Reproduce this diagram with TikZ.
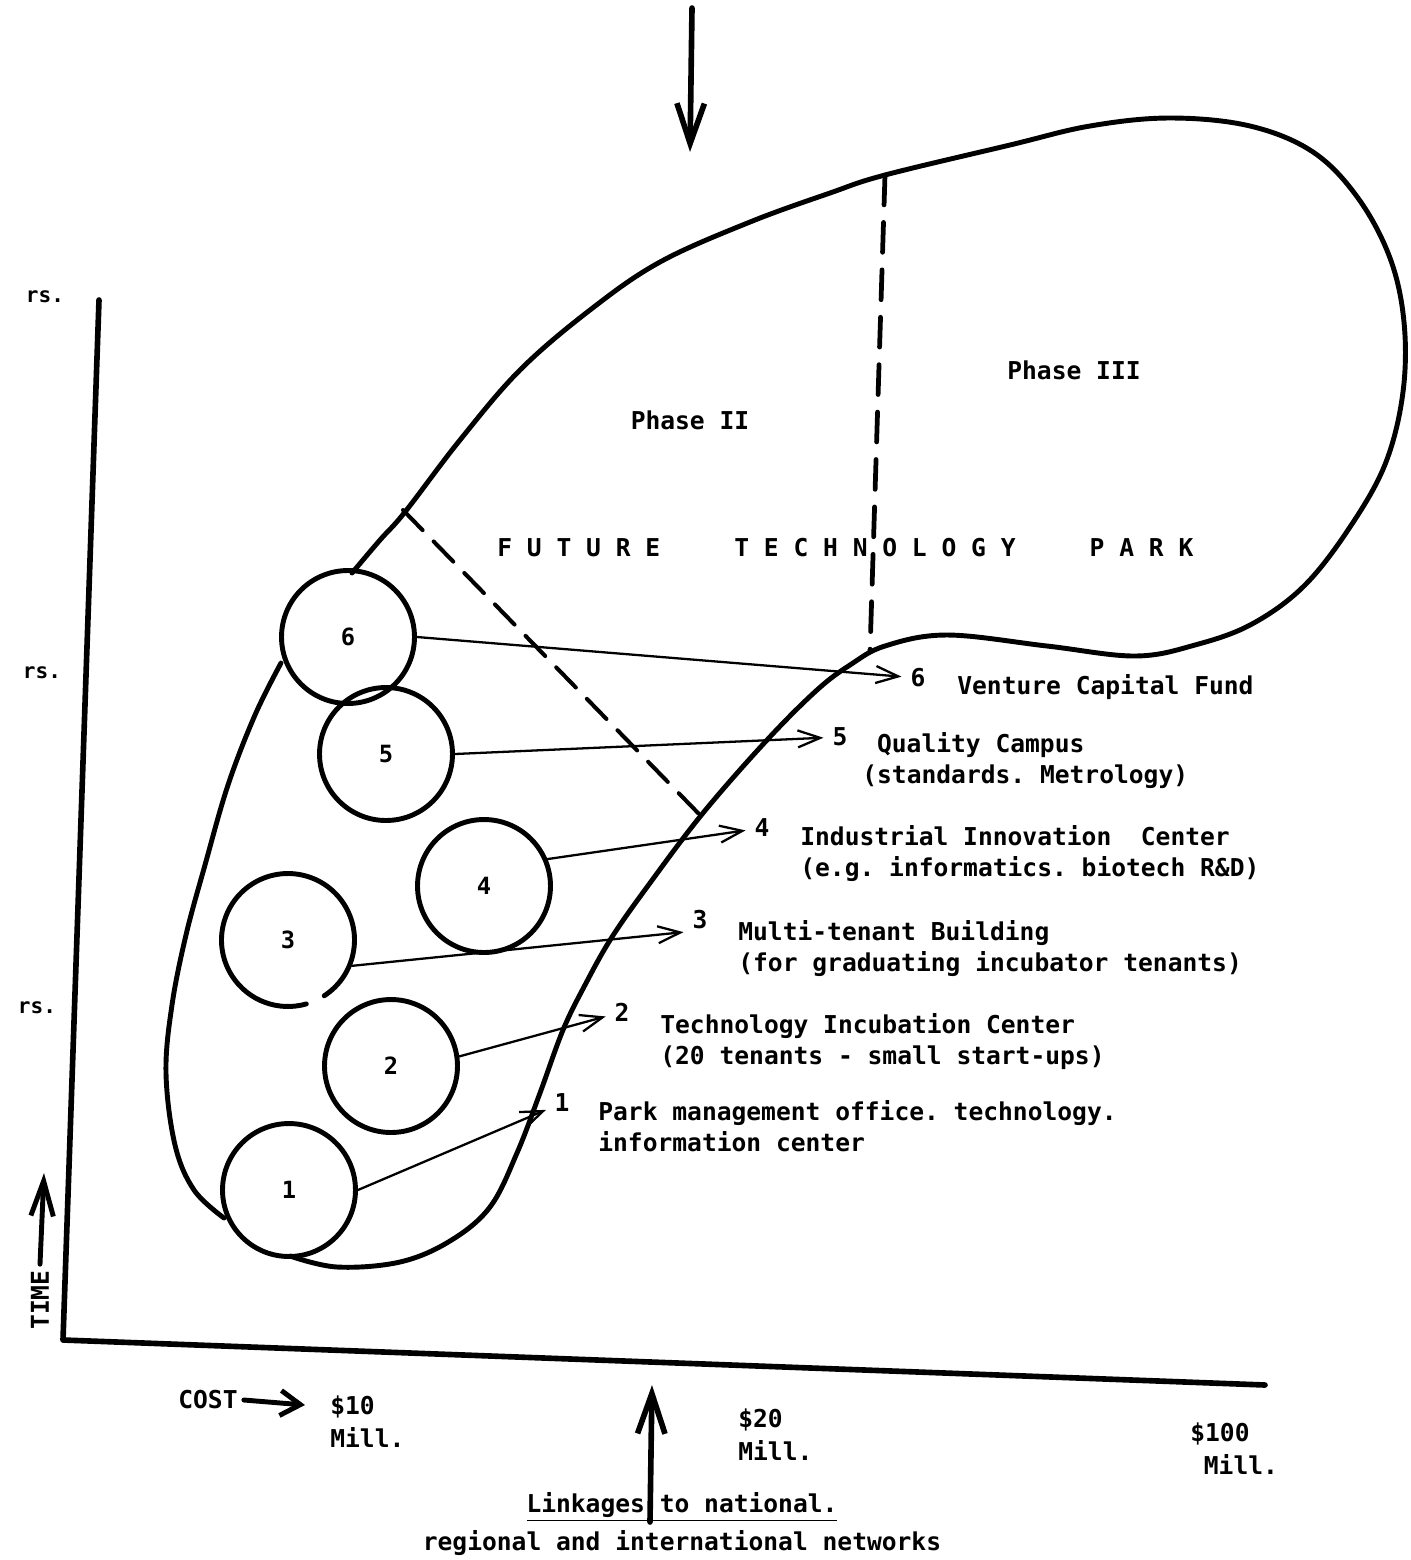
\documentclass[tikz,border=0pt]{standalone}
\usepackage{fontspec}
\setmonofont{DejaVu Sans Mono}
\usetikzlibrary{calc,arrows.meta}

\begin{document}
\begin{tikzpicture}[x=0.02cm, y=-0.02cm, line join=round, line cap=round,
    font=\ttfamily\bfseries\fontsize{14}{17.8}\selectfont,
    bubble/.style={circle, draw, line width=2.8pt, minimum size=2.66cm, inner sep=0pt,
        font=\ttfamily\bfseries\fontsize{13.5}{15}\selectfont},
    rim/.style={line width=2.8pt},
    phase/.style={line width=2.3pt, dash pattern=on 16pt off 9pt},
    link/.style={line width=1.3pt, shorten >=4pt, -{Straight Barb[length=4.5mm,width=3.4mm]}},
    bigarrow/.style={line width=3.2pt, -{Straight Barb[length=8mm,width=5.5mm]}},
    num/.style={inner sep=1pt},
    item/.style={anchor=north west, align=left, inner sep=0pt},
    money/.style={anchor=north west, align=left, inner sep=0pt,
        font=\ttfamily\bfseries\fontsize{14}{19}\selectfont},
    yr/.style={font=\ttfamily\bfseries\fontsize{12}{14}\selectfont}]
    \useasboundingbox (0,0) rectangle (1411,1560);

    \coordinate (ytop) at (99,300);
    \coordinate (origin) at (63,1340);
    \coordinate (xend) at (1265,1385);

    % axes
    \draw[line width=3.2pt] (ytop) -- (origin) -- (xend);

    % outline of the park
    \draw[rim] plot[smooth, tension=0.6] coordinates {(290,1256) (337,1267) (400,1262)
        (450,1241) (490,1207) (517,1153) (540,1093) (563,1030) (585,985) (612,937)
        (650,883) (703,813) (767,740) (817,690) (850,665) (885,646) (947,635)
        (1047,646) (1135,656) (1195,645) (1252,624) (1305,585) (1352,524) (1386,462)
        (1403,392) (1404,322) (1390,258) (1358,198) (1313,152) (1250,126) (1170,118)
        (1090,126) (1010,145) (885,175) (830,193) (750,222) (660,262) (590,310)
        (520,370) (460,440) (405,512) (380,540) (352,573)};
    \draw[rim] plot[smooth, tension=0.6] coordinates {(281,663) (255,715) (228,785)
        (205,865) (186,935) (172,1005) (166,1073) (175,1145) (194,1190) (224,1218)};

    % phases
    \coordinate (pa) at (403,510);
    \coordinate (pb) at (700,815);
    \coordinate (pc) at (885,175);
    \coordinate (pd) at (870,652);
    \draw[phase] (pa) -- (pb);
    \draw[phase, line width=2.7pt, dash pattern=on 17pt off 10pt] (pc) -- (pd);

    \node (ph2) at (690,420) {Phase II};
    \node (ph3) at (1074,370) {Phase III};
    \node[anchor=west, inner sep=0pt] (ftp) at (497,548)
        {F~U~T~U~R~E~~~~~T~E~C~H~N~O~L~O~G~Y~~~~~P~A~R~K};

    % circles
    \node[bubble] (c6) at (348,637) {6};
    \node[bubble] (c5) at (386,754) {5};
    \node[bubble] (c4) at (484,886) {4};
    \node[bubble, draw=none] (c3) at (288,940) {3};
    \draw[rim] ($(c3.center)+(-57:1.33cm)$) arc[start angle=-57, end angle=286, radius=1.33cm];
    \node[bubble] (c2) at (391,1066) {2};
    \node[bubble] (c1) at (289,1190) {1};

    % labels
    \node[num] (n6) at (918,678) {6};
    \node[item] (t6) at (957,674) {Venture Capital Fund};
    \node[num] (n5) at (840,737) {5};
    \node[item] (t5) at (862,732) {\hspace*{0.6em}Quality Campus\\(standards. Metrology)};
    \node[num] (n4) at (762,828) {4};
    \node[item] (t4) at (800,825) {Industrial Innovation~~Center\\(e.g. informatics. biotech R\&D)};
    \node[num] (n3) at (700,920) {3};
    \node[item] (t3) at (738,920) {Multi-tenant Building\\(for graduating incubator tenants)};
    \node[num] (n2) at (622,1012) {2};
    \node[item] (t2) at (660,1013) {Technology Incubation Center\\(20 tenants - small start-ups)};
    \node[num] (n1) at (562,1103) {1};
    \node[item] (t1) at (598,1100) {Park management office. technology.\\information center};

    \draw[link] (c6.east) -- (n6);
    \draw[link] (c5.east) -- (n5);
    \draw[link] (c4.23) -- (n4);
    \draw[link] (c3.-22) -- (n3.south west);
    \draw[link] (c2.8) -- (n2);
    \draw[link] (c1.east) -- (n1);

    % years
    \node[yr] (rs1) at (45,297) {rs.};
    \node[yr] (rs2) at (42,673) {rs.};
    \node[yr] (rs3) at (37,1008) {rs.};

    % time and cost
    \node[rotate=90] (time) at (40,1300) {TIME};
    \coordinate (timetip) at (44,1173);
    \draw[line width=2.8pt, -{Straight Barb[length=7mm,width=4.5mm]}] (time.east) -- (timetip);

    \node (cost) at (208,1400) {COST};
    \coordinate (costtip) at (305,1405);
    \draw[line width=2.8pt, -{Straight Barb[length=4mm,width=5mm]}] (cost.east) -- (costtip);

    \node[money] (m10) at (330,1395) {\$10\\Mill.};
    \node[money] (m20) at (738,1408) {\$20\\Mill.};
    \node[money] (m100) at (1190,1422) {\$100\\\hspace*{0.55em}Mill.};

    % outside links
    \coordinate (toptail) at (692,8);
    \coordinate (toptip) at (690,152);
    \draw[bigarrow] (toptail) -- (toptip);

    \node[align=center, font=\ttfamily\bfseries\fontsize{14}{21.5}\selectfont] (links) at (682,1524)
        {\underline{Linkages to national.}\\regional and international networks};
    \coordinate (linkfoot) at (650,1522);
    \coordinate (linktip) at (652,1385);
    \draw[bigarrow] (linkfoot) -- (linktip);
\end{tikzpicture}
\end{document}
